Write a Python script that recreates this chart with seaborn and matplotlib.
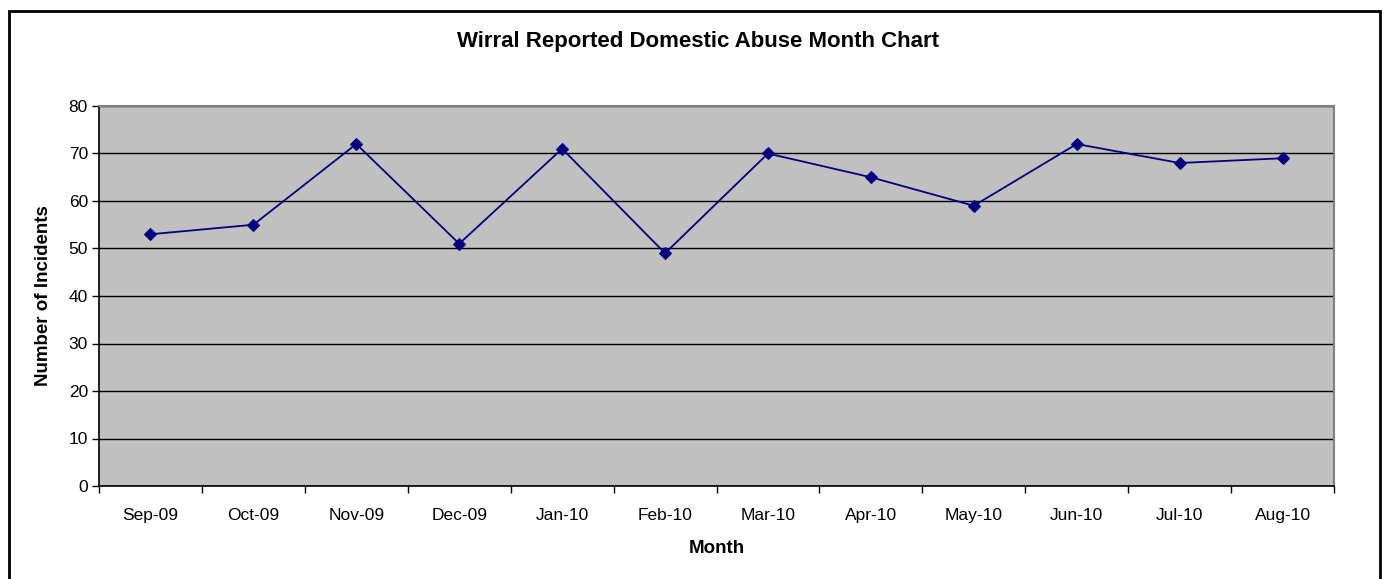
import matplotlib
matplotlib.use("Agg")
import matplotlib.pyplot as plt
import seaborn as sns
import pandas as pd
from matplotlib.patches import Rectangle

months = ["Sep-09", "Oct-09", "Nov-09", "Dec-09", "Jan-10", "Feb-10",
          "Mar-10", "Apr-10", "May-10", "Jun-10", "Jul-10", "Aug-10"]
incidents = [53, 55, 72, 51, 71, 49, 70, 65, 59, 72, 68, 69]

sns.set_style("white")
plt.rcParams['font.family'] = ['Liberation Sans', 'DejaVu Sans']
plt.rcParams['text.color'] = 'black'
plt.rcParams['axes.labelcolor'] = 'black'
plt.rcParams['xtick.color'] = 'black'
plt.rcParams['ytick.color'] = 'black'

W, H = 1388, 579
fig = plt.figure(figsize=(W / 100, H / 100), dpi=100)
ax = fig.add_axes([99 / W, 1 - 486 / H, (1334 - 99) / W, (486 - 106) / H])
ax.set_facecolor("#c0c0c0")

df = pd.DataFrame({"Month": months, "Incidents": incidents})
df["x"] = range(len(months))
sns.lineplot(data=df, x="x", y="Incidents", ax=ax, color="#000080",
             marker="D", markersize=6.5, markeredgecolor="#000080", linewidth=1.3)

ax.set_xlim(-0.5, len(months) - 0.5)
ax.set_ylim(0, 80)
ax.set_yticks(range(0, 81, 10))
ax.yaxis.grid(True, color="black", linewidth=1)
ax.set_axisbelow(True)

ax.set_xticks([i + 0.5 for i in range(-1, len(months))], minor=False)
ax.set_xticklabels([])
ax.set_xticks(range(len(months)), minor=True)
ax.set_xticklabels(months, minor=True)
ax.tick_params(axis="x", which="major", length=5, direction="out", color="black", width=1, bottom=True)
ax.tick_params(axis="x", which="minor", length=0, pad=16, labelsize=12.5, labelcolor="black")
ax.tick_params(axis="y", length=5, direction="out", color="black", width=1, left=True, labelsize=12.5, pad=3,
               labelcolor="black")

for s in ["left", "bottom"]:
    ax.spines[s].set_color("black")
    ax.spines[s].set_linewidth(1.2)
for s in ["top", "right"]:
    ax.spines[s].set_visible(True)
    ax.spines[s].set_color("#808080")
    ax.spines[s].set_linewidth(1.5)

ax.set_xlabel("Month", fontsize=13.5, fontweight="bold", labelpad=12, color="black")
ax.set_ylabel("Number of Incidents", fontsize=13.5, fontweight="bold", labelpad=12, color="black")

fig.text(698 / W, 1 - 42 / H, "Wirral Reported Domestic Abuse Month Chart",
         ha="center", va="center", fontsize=16, fontweight="bold", color="black")

fig.patches.append(Rectangle((9 / W, -0.05), (1380 - 9) / W, 1 - 11 / H + 0.05,
                             transform=fig.transFigure, fill=False,
                             edgecolor="black", linewidth=2))

fig.savefig("out.png", dpi=100)
